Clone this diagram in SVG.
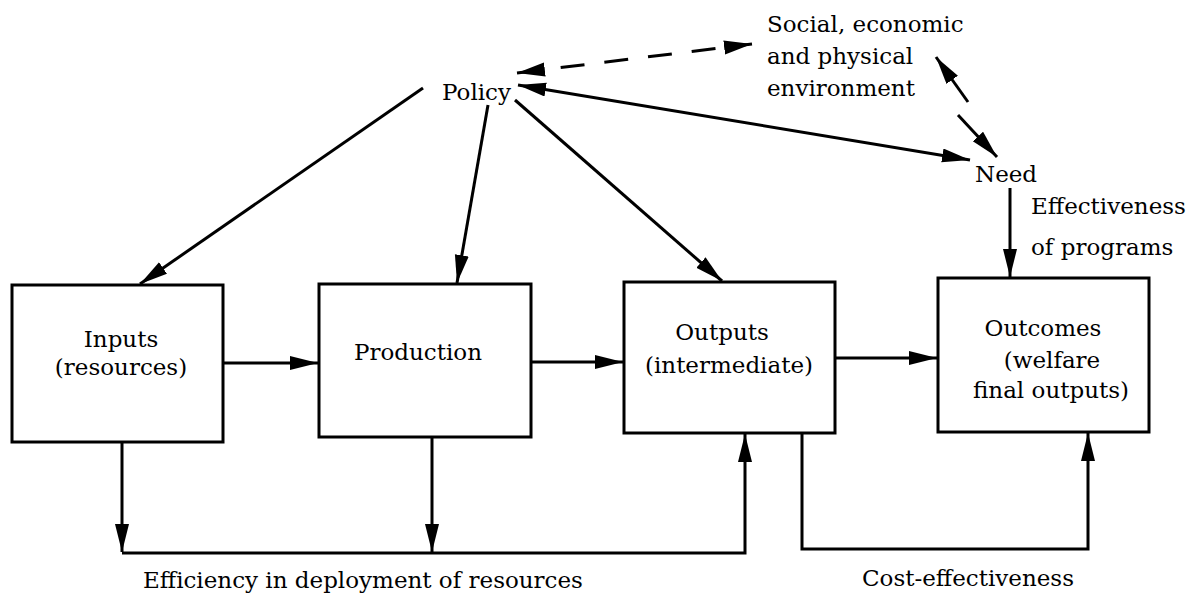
<svg xmlns="http://www.w3.org/2000/svg" width="1198" height="596" viewBox="0 0 1198 596">
<style>
.box{fill:#fff;stroke:#000;stroke-width:3}
.ln{fill:none;stroke:#000;stroke-width:3}
.dash{stroke-dasharray:24 20}
text{font-family:"DejaVu Serif","Liberation Serif",serif;font-size:23px;fill:#000}
.m{text-anchor:middle}
</style>
<defs>
<marker id="ah" markerUnits="userSpaceOnUse" markerWidth="30" markerHeight="16" refX="28" refY="7" orient="auto-start-reverse">
<path d="M0,0 L28,7 L0,14 z" fill="#000"/>
</marker>
</defs>
<rect width="1198" height="596" fill="#fff"/>
<g id="connectors">
<path class="ln" d="M423,88 L140,284" marker-end="url(#ah)"/>
<path class="ln" d="M488,105 L457,283" marker-end="url(#ah)"/>
<path class="ln" d="M515,100 L722,281" marker-end="url(#ah)"/>
<path class="ln" d="M518,85 L970,160" marker-start="url(#ah)" marker-end="url(#ah)"/>
<path class="ln dash" d="M517,73 L752,44" marker-start="url(#ah)" marker-end="url(#ah)"/>
<path class="ln" d="M936,57 L968,102" marker-start="url(#ah)"/>
<path class="ln" d="M958,115 L997,157" marker-end="url(#ah)"/>
<path class="ln" d="M1010,188 L1010,277" marker-end="url(#ah)"/>
<path class="ln" d="M223,363 L318,363" marker-end="url(#ah)"/>
<path class="ln" d="M531,362 L623,362" marker-end="url(#ah)"/>
<path class="ln" d="M835,358 L937,358" marker-end="url(#ah)"/>
<path class="ln" d="M122,442 L122,552" marker-end="url(#ah)"/>
<path class="ln" d="M432,437 L432,552" marker-end="url(#ah)"/>
<path class="ln" d="M122,553 L745,553 L745,434" marker-end="url(#ah)"/>
<path class="ln" d="M802,433 L802,549 L1088,549 L1088,433" marker-end="url(#ah)"/>
</g>
<g id="inputs">
<rect class="box" x="12" y="285" width="211" height="157"/>
<text class="m" x="121" y="347">Inputs</text>
<text class="m" x="121" y="375">(resources)</text>
</g>
<g id="production">
<rect class="box" x="319" y="284" width="212" height="153"/>
<text class="m" x="418" y="360">Production</text>
</g>
<g id="outputs">
<rect class="box" x="624" y="282" width="211" height="151"/>
<text class="m" x="722" y="340">Outputs</text>
<text class="m" x="729" y="373">(intermediate)</text>
</g>
<g id="outcomes">
<rect class="box" x="938" y="278" width="211" height="154"/>
<text class="m" x="1043" y="336">Outcomes</text>
<text class="m" x="1052" y="368">(welfare</text>
<text class="m" x="1051" y="398">final outputs)</text>
</g>
<g id="policy">
<text x="442" y="100">Policy</text>
</g>
<g id="environment">
<text x="767" y="32">Social, economic</text>
<text x="767" y="64">and physical</text>
<text x="767" y="96">environment</text>
</g>
<g id="need">
<text x="975" y="182">Need</text>
</g>
<g id="labels">
<text x="1031" y="214">Effectiveness</text>
<text x="1031" y="255">of programs</text>
<text x="143" y="588">Efficiency in deployment of resources</text>
<text x="862" y="586">Cost-effectiveness</text>
</g>
</svg>
